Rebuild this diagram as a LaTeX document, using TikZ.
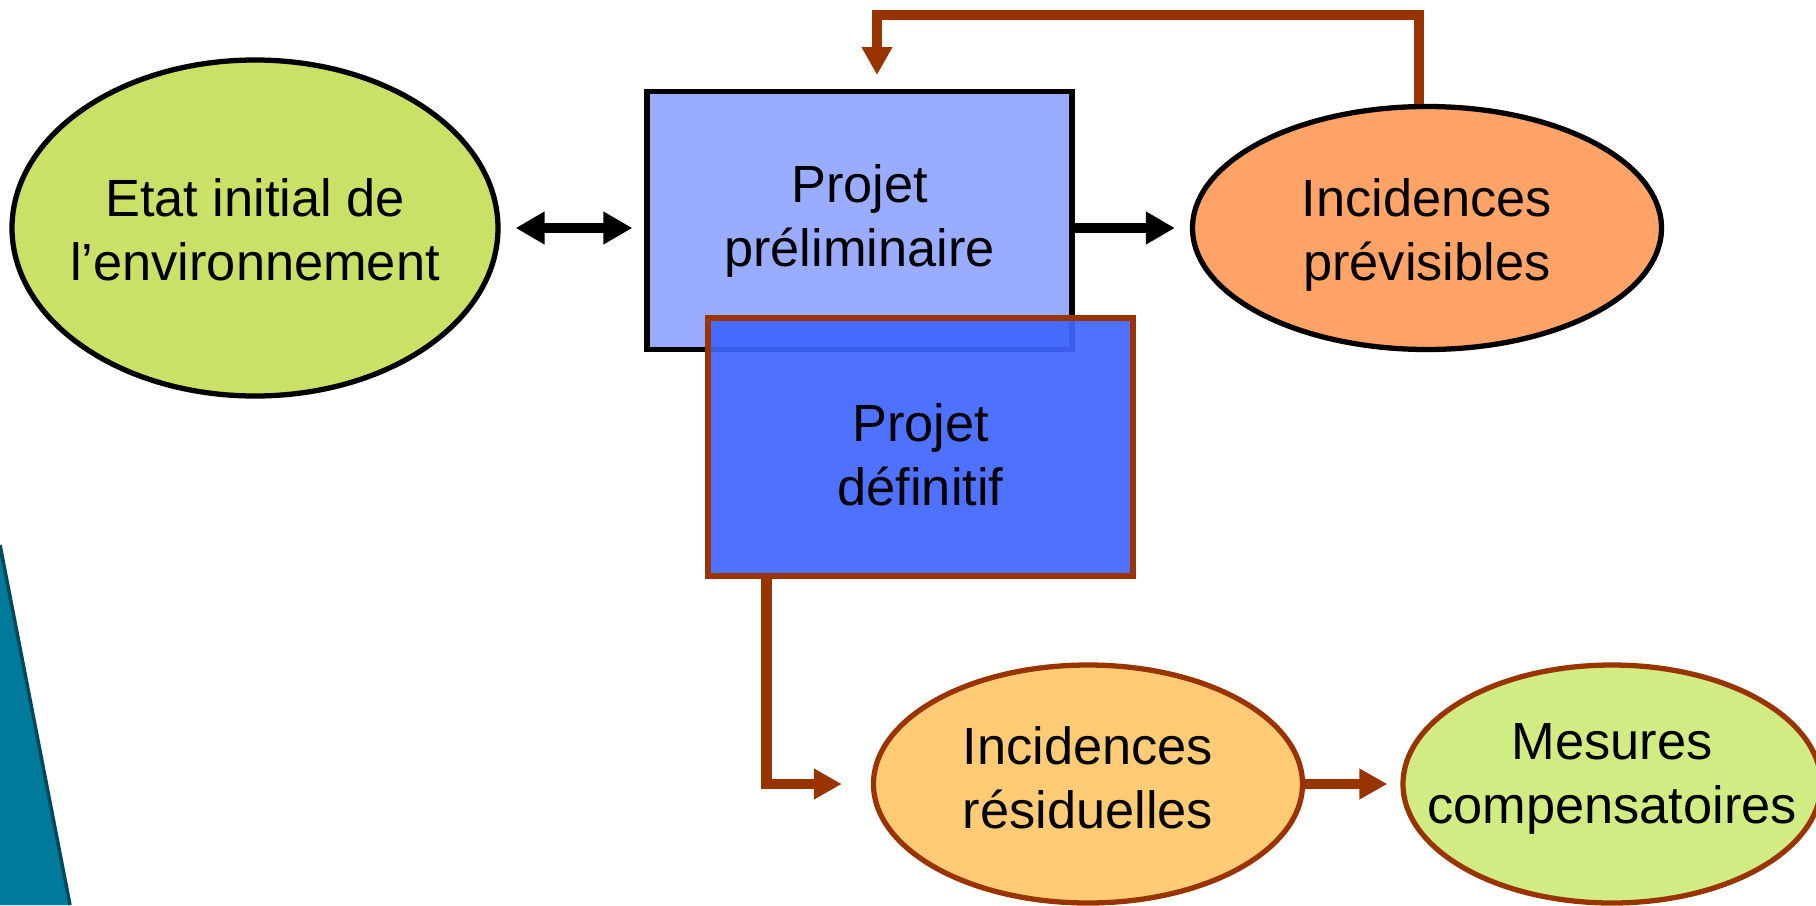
\documentclass[tikz,border=0pt]{standalone}
\usepackage{fontspec}
\setmainfont{Liberation Sans}
\usetikzlibrary{shapes.geometric,arrows.meta,calc}
\definecolor{brun}{HTML}{993300}
\definecolor{vertclair}{HTML}{C8E166}
\definecolor{vertpale}{HTML}{D2EC84}
\definecolor{orangevif}{HTML}{FFA466}
\definecolor{orangepale}{HTML}{FFCB74}
\definecolor{bleuclair}{HTML}{9AACFF}
\definecolor{bleuvif}{HTML}{3F66FF}
\definecolor{sarcelle}{HTML}{007A9A}
\newcommand{\deuxlignes}[3][0pt]{\raisebox{#1}[\height][\depth]{\makebox[0pt]{\begin{tabular}{@{}c@{}}#2\\#3\end{tabular}}}}
\tikzset{
  bulle/.style={ellipse,inner sep=0pt,line width=1.5pt,font=\fontsize{14.9}{18.2}\selectfont},
  boite/.style={rectangle,inner sep=0pt,align=center,line width=1.5pt,minimum width=4.25cm,minimum height=2.58cm,font=\fontsize{14.9}{18.2}\selectfont},
  flechenoire/.style={line width=2.6pt,black},
  flechebrune/.style={line width=3pt,brun,-{Triangle[length=2.8mm,width=2.9mm]}}
}

\begin{document}
\begin{tikzpicture}
                    \useasboundingbox (0,0) rectangle (18.16,9.05);
                    \fill[sarcelle] (0,3.60)--(0.70,0)--(0,0)--cycle;
                    \draw[sarcelle!60!black,line width=1pt] (0,3.60)--(0.70,0);
                    \node[bulle,draw=black,fill=vertclair,minimum width=4.86cm,minimum height=3.36cm] (etat) at (2.55,6.77) {\deuxlignes[-0.08cm]{Etat initial de}{l’environnement}};
                    \node[boite,draw=black,fill=bleuclair] (prelim) at (8.595,6.845) {Projet\\préliminaire};
                    \node[boite,draw=brun,fill=bleuvif,fill opacity=0.92,text opacity=1] (definitif) at (9.205,4.58) {\\[-0.1cm]Projet\\définitif};
                    \node[bulle,draw=black,fill=orangevif,minimum width=4.69cm,minimum height=2.43cm] (prevues) at (14.27,6.77) {\deuxlignes[-0.08cm]{Incidences}{prévisibles}};
                    \node[bulle,draw=brun,fill=orangepale,minimum width=4.29cm,minimum height=2.38cm] (residus) at (10.88,1.21) {\deuxlignes{Incidences}{résiduelles}};
                    \node[bulle,draw=brun,fill=vertpale,minimum width=4.18cm,minimum height=2.38cm] (mesures) at (16.12,1.21) {\deuxlignes[0.05cm]{Mesures}{compensatoires}};
                    \coordinate (coude) at (8.77,8.90);
                    \coordinate (retour) at (8.77,8.30);
                    \draw[flechenoire,{Triangle[length=2.9mm,width=3.1mm]}-{Triangle[length=2.9mm,width=3.1mm]},shorten <=0.15cm,shorten >=0.12cm] (etat.east)--(etat.east -| prelim.west);
                    \draw[flechenoire,-{Triangle[length=2.9mm,width=3.1mm]},shorten >=0.15cm] (prelim.east |- prevues.west)--(prevues.west);
                    \draw[flechebrune] ([xshift=-0.08cm]prevues.north) |- (coude)--(retour);
                    \draw[flechebrune,shorten >=0.29cm] ([xshift=0.61cm]definitif.south west) |- (residus.west);
                    \draw[flechebrune,shorten >=0.13cm] (residus.east)--(mesures.west);
                \end{tikzpicture}
\end{document}
